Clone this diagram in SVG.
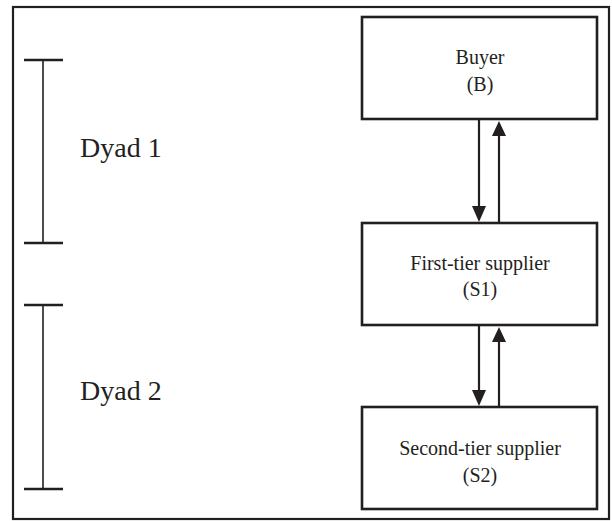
<svg xmlns="http://www.w3.org/2000/svg" width="612" height="521" viewBox="0 0 612 521">
<style>
.frame{fill:#fff;stroke:#231f20;stroke-width:2.2}
.box{fill:#fff;stroke:#231f20;stroke-width:2.6}
.lbl{font-family:"Liberation Serif",serif;font-size:20px;fill:#231f20;text-anchor:middle}
.dy{font-family:"Liberation Serif",serif;font-size:28px;fill:#231f20}
.br{stroke:#231f20;fill:none}
.conn{stroke:#231f20;stroke-width:2.2;fill:none}
.head{fill:#231f20}
</style>
<rect class="frame" x="13" y="7" width="596" height="512"/>
<g id="dyad1">
<line class="br" x1="43" y1="60" x2="43" y2="243" stroke-width="1.6"/>
<line class="br" x1="24" y1="60" x2="63" y2="60" stroke-width="2.4"/>
<line class="br" x1="24" y1="243" x2="63" y2="243" stroke-width="2.4"/>
<text class="dy" x="80" y="157">Dyad 1</text>
</g>
<g id="dyad2">
<line class="br" x1="43" y1="305" x2="43" y2="489" stroke-width="1.6"/>
<line class="br" x1="24" y1="305" x2="63" y2="305" stroke-width="2.4"/>
<line class="br" x1="24" y1="489" x2="63" y2="489" stroke-width="2.4"/>
<text class="dy" x="80" y="400">Dyad 2</text>
</g>
<g id="buyer">
<rect class="box" x="362" y="17" width="235" height="102"/>
<text class="lbl" x="480" y="64">Buyer</text>
<text class="lbl" x="480" y="91">(B)</text>
</g>
<g id="s1">
<rect class="box" x="362" y="223" width="235" height="102"/>
<text class="lbl" x="480" y="270">First-tier supplier</text>
<text class="lbl" x="480" y="296">(S1)</text>
</g>
<g id="s2">
<rect class="box" x="362" y="407" width="235" height="102"/>
<text class="lbl" x="480" y="455">Second-tier supplier</text>
<text class="lbl" x="480" y="482">(S2)</text>
</g>
<g id="connectors">
<line class="conn" x1="479" y1="120" x2="479" y2="208"/>
<polygon class="head" points="472,206 486,206 479,222"/>
<line class="conn" x1="499" y1="222" x2="499" y2="136"/>
<polygon class="head" points="492,136 506,136 499,121"/>
<line class="conn" x1="479" y1="326" x2="479" y2="392"/>
<polygon class="head" points="472,390 486,390 479,406"/>
<line class="conn" x1="499" y1="406" x2="499" y2="342"/>
<polygon class="head" points="492,342 506,342 499,327"/>
</g>
</svg>
